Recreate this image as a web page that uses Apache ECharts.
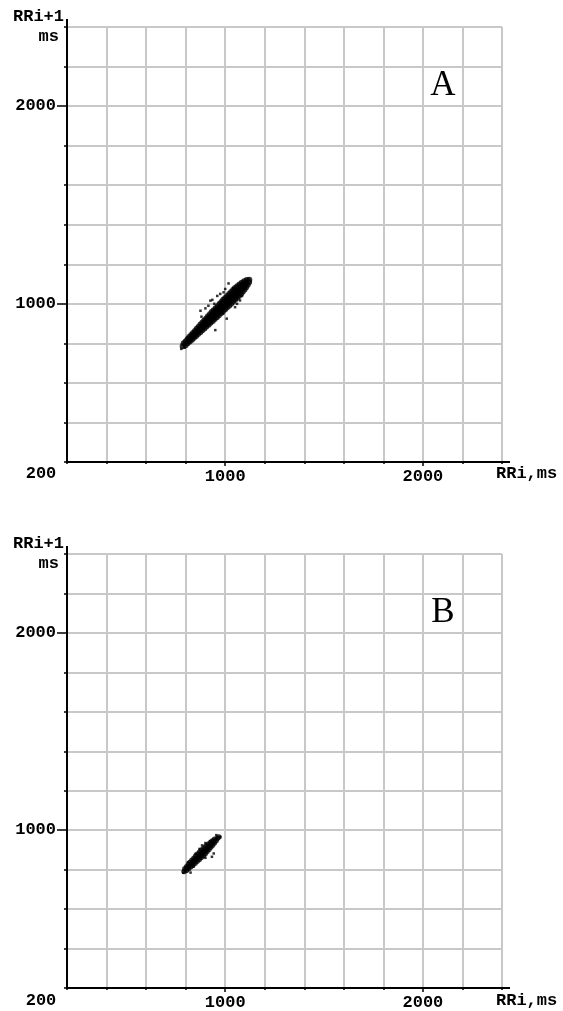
<!DOCTYPE html>
<html>
<head>
<meta charset="utf-8">
<script src="https://cdn.jsdelivr.net/npm/echarts@6/dist/echarts.min.js"></script>
<style>
html,body{margin:0;padding:0;background:#fff;}
#chart{width:563px;height:1011px;}
</style>
</head>
<body>
<div id="chart"></div>
<script>
// Axis range (ms) and labelled tick values
const axisMin = 200;
const axisMax = 2400;
const axisStep = 200;
const labelValues = [1000, 2000];
const originLabel = '200';
const xName = 'RRi,ms';
const yName1 = 'RRi+1';
const yName2 = 'ms';
const panelLetters = ['A', 'B'];

// Panel A: dense core of the Poincaré cloud [RRi, RRi+1]
const coreA = [
  [785,785],[790,800],[800,790],[800,810],[810,800],
  [809,821],[815,815],[821,809],[818,832],[825,825],[832,818],
  [828,842],[835,835],[842,828],[837,853],[845,845],[853,837],
  [847,863],[855,855],[863,847],[856,874],[865,865],[874,856],
  [866,884],[875,875],[884,866],[875,895],[885,885],[895,875],
  [885,905],[895,895],[905,885],
  [894,916],[901,909],[909,901],[916,894],
  [904,926],[911,919],[919,911],[926,904],
  [913,937],[921,929],[929,921],[937,913],
  [923,947],[931,939],[939,931],[947,923],
  [932,958],[941,949],[949,941],[958,932],
  [942,968],[951,959],[959,951],[968,942],
  [952,978],[961,969],[969,961],[978,952],
  [962,988],[971,979],[979,971],[988,962],
  [971,999],[980,990],[990,980],[999,971],
  [981,1009],[990,1000],[1000,990],[1009,981],
  [990,1020],[1000,1010],[1010,1000],[1020,990],
  [1000,1030],[1010,1020],[1020,1010],[1030,1000],
  [1010,1040],[1020,1030],[1030,1020],[1040,1010],
  [1020,1050],[1030,1040],[1040,1030],[1050,1020],
  [1030,1060],[1040,1050],[1050,1040],[1060,1030],
  [1040,1070],[1050,1060],[1060,1050],[1070,1040],
  [1050,1080],[1060,1070],[1070,1060],[1080,1050],
  [1061,1089],[1070,1080],[1080,1070],[1089,1061],
  [1072,1098],[1081,1089],[1089,1081],[1098,1072],
  [1084,1106],[1091,1099],[1099,1091],[1106,1084],
  [1096,1114],[1105,1105],[1114,1096],
  [1109,1121],[1121,1109],[1122,1122]
];
// Panel A: scattered outlying beats
const strayA = [
  [925,1016],[935,1020],[900,977],[875,965],[992,1058],[1017,1103],
  [1075,1017],[1050,983],[1008,925],[950,867],[892,908],[975,1050],
  [960,1040],[1040,1080],[880,935],[915,990],[1060,1000],[990,950],
  [778,772],[795,778],[810,830],[1000,1075],[1085,1040],[945,1000]
];

// Panel B: dense core
const coreB = [
  [792,790],[796,804],[804,796],
  [805,815],[810,810],[815,805],[814,826],[820,820],[826,814],
  [823,837],[830,830],[837,823],[832,848],[840,840],[848,832],
  [842,858],[850,850],[858,842],[851,869],[860,860],[869,851],
  [861,879],[870,870],[879,861],[871,889],[880,880],[889,871],
  [881,899],[890,890],[899,881],[892,908],[900,900],[908,892],
  [902,918],[910,910],[918,902],[913,927],[920,920],[927,913],
  [924,936],[930,930],[936,924],[935,945],[940,940],[945,935],
  [946,954],[954,946],[960,958],[968,966]
];
// Panel B: scattered outlying beats
const strayB = [
  [788,784],[825,785],[883,923],[900,935],[925,945],[933,865],
  [942,882],[975,965],[850,880],[870,905],[955,975],[900,860],
  [840,815],[812,838]
];

const fontMono = 'Liberation Mono, DejaVu Sans Mono, monospace';

function labelFmt(v) {
  return labelValues.indexOf(v) >= 0 ? String(v) : '';
}

function baseAxis(i) {
  return {
    gridIndex: i, type: 'value', min: axisMin, max: axisMax, interval: axisStep
  };
}
function makeX(i) {
  return Object.assign(baseAxis(i), {
    position: 'bottom',
    axisLine: { show: true, onZero: false, symbol: ['none', 'rect'], symbolSize: [2, 16],
      lineStyle: { color: '#000', width: 2 } },
    axisTick: { show: true, inside: false, length: 2, lineStyle: { color: '#000', width: 1.5 } },
    axisLabel: { formatter: labelFmt, margin: 6, color: '#000', fontFamily: fontMono, fontSize: 17,
      fontWeight: 'bold', hideOverlap: false },
    splitLine: { show: true, lineStyle: { color: '#c8c8c8', width: 2 } }
  });
}
function makeY(i) {
  return Object.assign(baseAxis(i), {
    position: 'left',
    axisLine: { show: true, onZero: false, symbol: ['none', 'rect'], symbolSize: [2, 16],
      lineStyle: { color: '#000', width: 2 } },
    axisTick: { show: true, inside: false, length: 3, lineStyle: { color: '#000', width: 1.5 } },
    axisLabel: { formatter: labelFmt, margin: 11, color: '#000', fontFamily: fontMono, fontSize: 17,
      fontWeight: 'bold', hideOverlap: false },
    splitLine: { show: true, lineStyle: { color: '#c8c8c8', width: 2 } }
  });
}
// overlay axes carrying the longer ticks at the labelled values
function majorX(i) {
  return Object.assign(baseAxis(i), {
    position: 'bottom',
    axisLine: { show: false, onZero: false },
    axisTick: { show: true, inside: false, length: 4, customValues: labelValues,
      lineStyle: { color: '#000', width: 1.5 } },
    axisLabel: { show: false },
    splitLine: { show: false }
  });
}
function majorY(i) {
  return Object.assign(baseAxis(i), {
    position: 'left',
    axisLine: { show: false, onZero: false },
    axisTick: { show: true, inside: false, length: 10, customValues: labelValues,
      lineStyle: { color: '#000', width: 1.5 } },
    axisLabel: { show: false },
    splitLine: { show: false }
  });
}

const grids = [
  { left: 67, top: 27, width: 435, height: 435 },
  { left: 67, top: 554, width: 435, height: 435 }
];

const textFont = 'bold 17px ' + fontMono;
const graphics = [];
grids.forEach(function (g, i) {
  const bottom = g.top + g.height;
  graphics.push({ type: 'text', x: 41, y: bottom + 12,
    style: { text: originLabel, font: textFont, fill: '#000', align: 'center', verticalAlign: 'middle' } });
  graphics.push({ type: 'text', x: 496, y: bottom + 12,
    style: { text: xName, font: textFont, fill: '#000', align: 'left', verticalAlign: 'middle' } });
  graphics.push({ type: 'text', x: 64, y: g.top - 10,
    style: { text: yName1, font: textFont, fill: '#000', align: 'right', verticalAlign: 'middle' } });
  graphics.push({ type: 'text', x: 59, y: g.top + 10,
    style: { text: yName2, font: textFont, fill: '#000', align: 'right', verticalAlign: 'middle' } });
  graphics.push({ type: 'text', x: 443, y: g.top + 59,
    style: { text: panelLetters[i], font: '35px Liberation Serif, Times New Roman, serif', fill: '#000', align: 'center', verticalAlign: 'middle' } });
});

function core(data, i, size) {
  return { type: 'scatter', xAxisIndex: i, yAxisIndex: i, data: data, symbol: 'circle', symbolSize: size,
    itemStyle: { color: '#000' }, silent: true, z: 3 };
}
function stray(data, i) {
  return { type: 'scatter', xAxisIndex: i, yAxisIndex: i, data: data, symbol: 'rect', symbolSize: 2.5,
    itemStyle: { color: '#000' }, silent: true, z: 3 };
}

const chart = echarts.init(document.getElementById('chart'), null, { renderer: 'canvas' });
chart.setOption({
  animation: false,
  backgroundColor: '#fff',
  grid: grids,
  xAxis: [makeX(0), makeX(1), majorX(0), majorX(1)],
  yAxis: [makeY(0), makeY(1), majorY(0), majorY(1)],
  graphic: graphics,
  series: [core(coreA, 0, 6), stray(strayA, 0), core(coreB, 1, 5.5), stray(strayB, 1)]
});
</script>
</body>
</html>
